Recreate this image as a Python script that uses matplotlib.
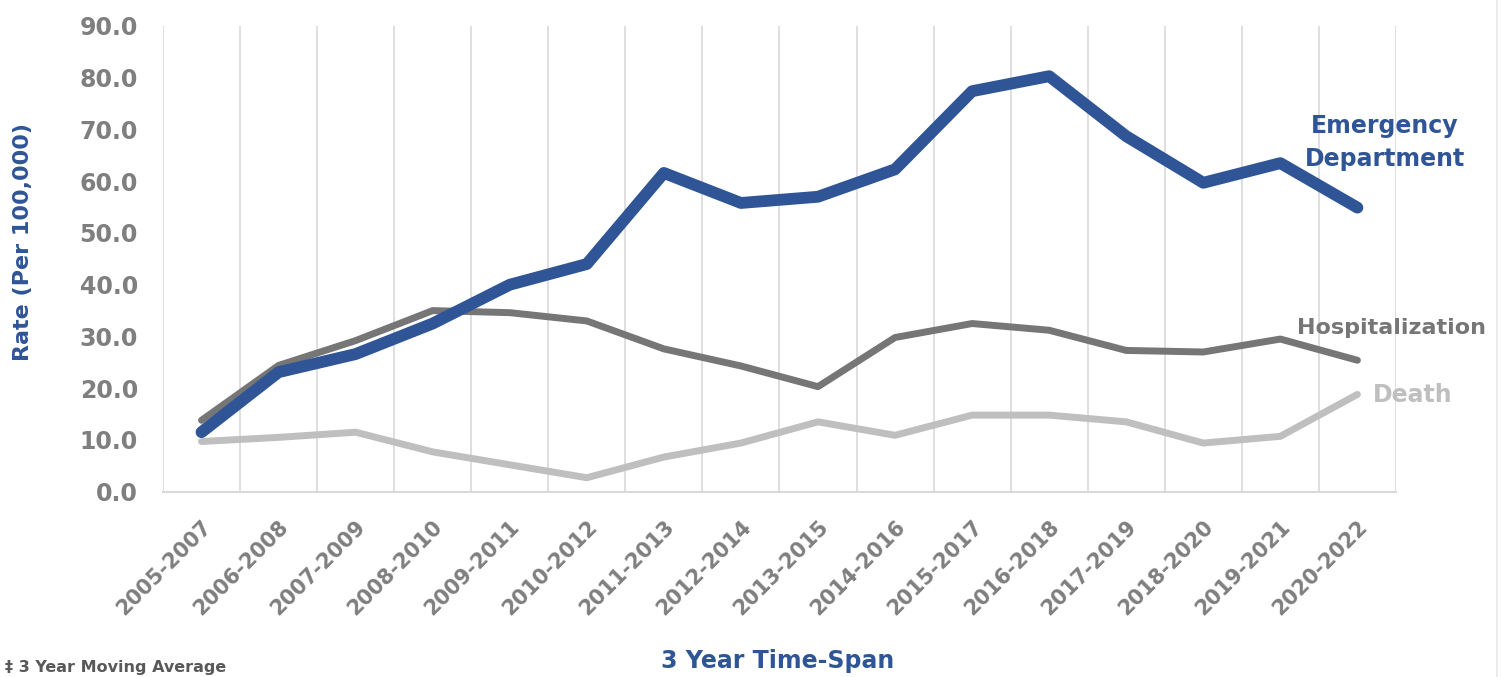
import numpy as np
import matplotlib
matplotlib.use("Agg")
import matplotlib.pyplot as plt
from matplotlib.lines import Line2D

spans = ["2005-2007", "2006-2008", "2007-2009", "2008-2010", "2009-2011",
         "2010-2012", "2011-2013", "2012-2014", "2013-2015", "2014-2016",
         "2015-2017", "2016-2018", "2017-2019", "2018-2020", "2019-2021",
         "2020-2022"]
emergency = [11.5, 23.1, 26.6, 32.5, 40.0, 44.0, 61.6, 55.8, 57.0, 62.3,
             77.4, 80.3, 68.7, 59.7, 63.5, 54.9]
hospital = [13.8, 24.4, 29.2, 35.0, 34.6, 33.0, 27.6, 24.3, 20.3, 29.8,
            32.5, 31.2, 27.3, 27.0, 29.5, 25.4]
death = [9.7, 10.5, 11.5, 7.7, 5.2, 2.7, 6.7, 9.4, 13.5, 10.9,
         14.8, 14.8, 13.5, 9.4, 10.7, 18.8]
yticks = [0, 10, 20, 30, 40, 50, 60, 70, 80, 90]

blue = "#2f5597"
dgray = "#767676"
lgray = "#bfbfbf"
tickgray = "#7f7f7f"
gridc = "#d9d9d9"

plt.rcParams["font.family"] = "DejaVu Sans"
plt.rcParams["font.weight"] = "bold"

fig = plt.figure(figsize=(15.02, 6.77), dpi=100)
ax = fig.add_axes([0.1085, 0.2737, 0.8209, 0.6879])

x = np.arange(len(spans))
ax.plot(x, death, color=lgray, lw=5, solid_capstyle="round", solid_joinstyle="round")
ax.plot(x, hospital, color=dgray, lw=5, solid_capstyle="round", solid_joinstyle="round")
ax.plot(x, emergency, color=blue, lw=8.5, solid_capstyle="round", solid_joinstyle="round")

ax.set_xlim(-0.5, len(spans) - 0.5)
ax.set_ylim(0, 90)
ax.set_yticks(yticks)
ax.set_yticklabels([f"{v:.1f}" for v in yticks], fontsize=17, color=tickgray, fontweight="bold")
ax.tick_params(axis="y", length=0, pad=18)

# category labels at centers, grid at category boundaries
ax.set_xticks(x)
ax.set_xticklabels(spans, rotation=45, rotation_mode="anchor", ha="right", va="top",
                   fontsize=15, color=tickgray, fontweight="bold")
ax.tick_params(axis="x", which="major", length=0, pad=18)
ax.set_xticks(np.arange(-0.5, len(spans)), minor=True)
ax.tick_params(axis="x", which="minor", length=0)
ax.grid(axis="x", which="minor", color=gridc, lw=1.2)
ax.set_axisbelow(True)
for s in ["top", "left", "right"]:
    ax.spines[s].set_visible(False)
ax.spines["bottom"].set_color(gridc)
ax.spines["bottom"].set_linewidth(1.5)

ax.set_ylabel("Rate (Per 100,000)", fontsize=16, color=blue, fontweight="bold")
ax.yaxis.set_label_coords(-0.1054, 0.536)
fig.text(0.518, 0.023, "3 Year Time-Span", ha="center", va="center", fontsize=17,
         color=blue, fontweight="bold")
fig.text(0.003, 0.003, "\u2021 3 Year Moving Average", ha="left", va="bottom", fontsize=11.5,
         color="#595959", fontweight="bold")

ax.text(0.922, 0.7895, "Emergency\nDepartment", transform=fig.transFigure, ha="center",
        va="center", fontsize=17, color=blue, fontweight="bold", linespacing=1.45)
ax.text(0.8635, 0.515, "Hospitalization", transform=fig.transFigure, ha="left",
        va="center", fontsize=16, color=dgray, fontweight="bold")
ax.text(0.914, 0.416, "Death", transform=fig.transFigure, ha="left",
        va="center", fontsize=17, color=lgray, fontweight="bold")

# faint frame edge at right of the original image
fig.add_artist(Line2D([0.9967, 0.9967], [0, 1], transform=fig.transFigure,
                      color="#e8e8e8", lw=1.2))

fig.savefig("out.png", dpi=100)
